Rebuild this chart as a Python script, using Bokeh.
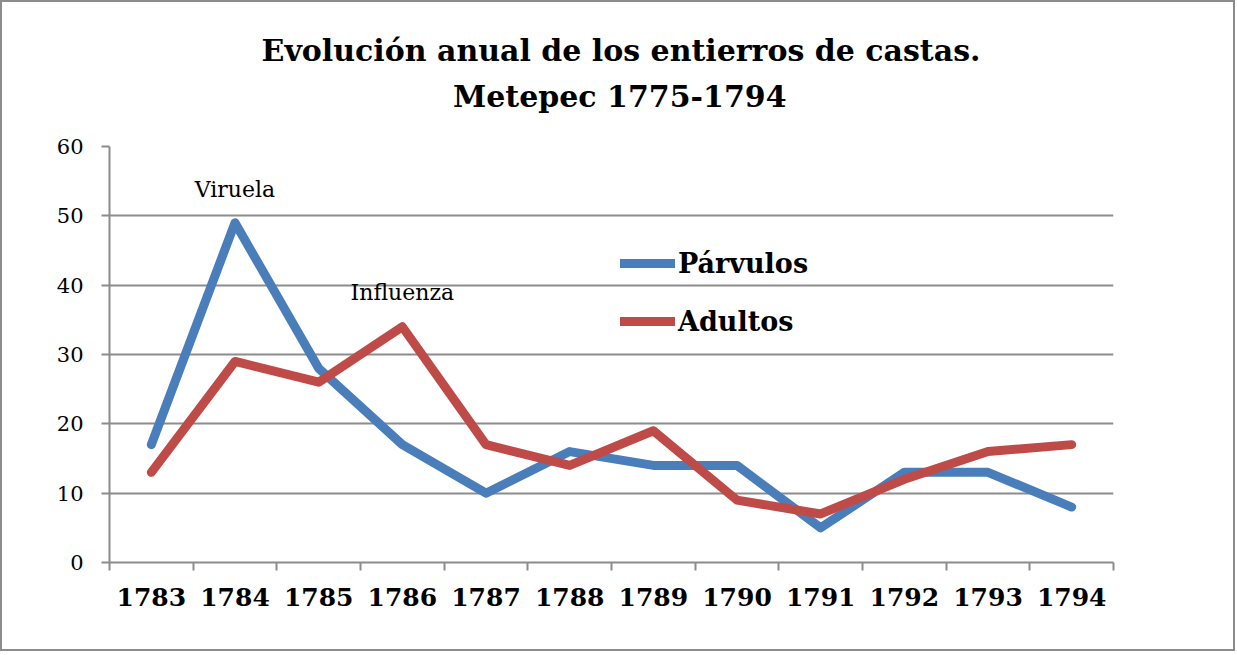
from bokeh.plotting import figure
from bokeh.models import Range1d, FixedTicker, Legend, LegendItem, Label, Title
from bokeh.embed import file_html
from bokeh.resources import INLINE

years = ["1783", "1784", "1785", "1786", "1787", "1788",
         "1789", "1790", "1791", "1792", "1793", "1794"]
parvulos = [17, 49, 28, 17, 10, 16, 14, 14, 5, 13, 13, 8]
adultos = [13, 29, 26, 34, 17, 14, 19, 9, 7, 12, 16, 17]
y_ticks = [0, 10, 20, 30, 40, 50, 60]
title_lines = ["Evolución anual de los entierros de castas.", "Metepec 1775-1794"]
notes = [("Viruela", "1784", 53.8), ("Influenza", "1786", 38.9)]

FONT = "DejaVu Serif"
GRAY = "#8c8c8c"
BLUE = "#4a7ebb"
RED = "#be4b48"

xs = list(range(1, len(years) + 1))

p = figure(width=1235, height=651, output_backend="svg", toolbar_location=None,
           x_range=Range1d(0.5, len(years) + 0.5), y_range=Range1d(0, 60),
           min_border_left=107, min_border_right=124, min_border_top=144,
           min_border_bottom=91)
p.styles = {"border": "2px solid " + GRAY}
p.outline_line_color = None
p.background_fill_color = "white"
p.border_fill_color = "white"

r1 = p.line(xs, parvulos, line_color=BLUE, line_width=9, line_cap="round", line_join="round")
r2 = p.line(xs, adultos, line_color=RED, line_width=9, line_cap="round", line_join="round")

# axes
p.xaxis.ticker = FixedTicker(ticks=xs, minor_ticks=[i + 0.5 for i in range(0, len(years) + 1)])
p.xaxis.major_label_overrides = {x: y for x, y in zip(xs, years)}
p.xaxis.major_tick_out = 0
p.xaxis.major_tick_in = 0
p.xaxis.minor_tick_out = 8
p.xaxis.minor_tick_in = 0
p.xaxis.minor_tick_line_color = GRAY
p.xaxis.minor_tick_line_width = 2
p.xaxis.axis_line_color = GRAY
p.xaxis.axis_line_width = 2
p.xaxis.major_label_standoff = 17
p.xaxis.major_label_text_font = FONT
p.xaxis.major_label_text_font_style = "bold"
p.xaxis.major_label_text_font_size = "25px"
p.xaxis.major_label_text_color = "black"

p.yaxis.ticker = FixedTicker(ticks=y_ticks)
p.yaxis.major_tick_out = 8
p.yaxis.major_tick_in = 0
p.yaxis.major_tick_line_color = GRAY
p.yaxis.major_tick_line_width = 2
p.yaxis.minor_tick_line_color = None
p.yaxis.axis_line_color = GRAY
p.yaxis.axis_line_width = 2
p.yaxis.major_label_standoff = 18
p.yaxis.major_label_text_font = FONT
p.yaxis.major_label_text_font_size = "21px"
p.yaxis.major_label_text_color = "black"

p.xgrid.grid_line_color = None
p.ygrid.ticker = FixedTicker(ticks=y_ticks)
p.ygrid.grid_line_color = GRAY
p.ygrid.grid_line_width = 2

# annotations
for txt, yr, yv in notes:
    p.add_layout(Label(x=xs[years.index(yr)], y=yv, text=txt, text_align="center",
                       text_baseline="middle", text_font=FONT, text_font_size="22px",
                       text_color="black"))

legend = Legend(items=[LegendItem(label="Párvulos", renderers=[r1]),
                       LegendItem(label="Adultos", renderers=[r2])],
                location=(511, 225), glyph_width=55, glyph_height=32,
                label_text_font=FONT, label_text_font_style="bold",
                label_text_font_size="27px", label_standoff=3,
                padding=0, margin=0, spacing=26, label_text_color="black",
                border_line_color=None, background_fill_alpha=0)
p.add_layout(legend)

# title (two lines)
p.add_layout(Title(text=title_lines[1], align="right", offset=327, standoff=66,
                   text_font=FONT, text_font_style="bold", text_font_size="30px",
                   text_color="black"), "above")
p.add_layout(Title(text=title_lines[0], align="right", offset=133, standoff=-48,
                   text_font=FONT, text_font_style="bold", text_font_size="30px",
                   text_color="black"), "above")

open("out.html", "w").write(file_html(p, INLINE))
